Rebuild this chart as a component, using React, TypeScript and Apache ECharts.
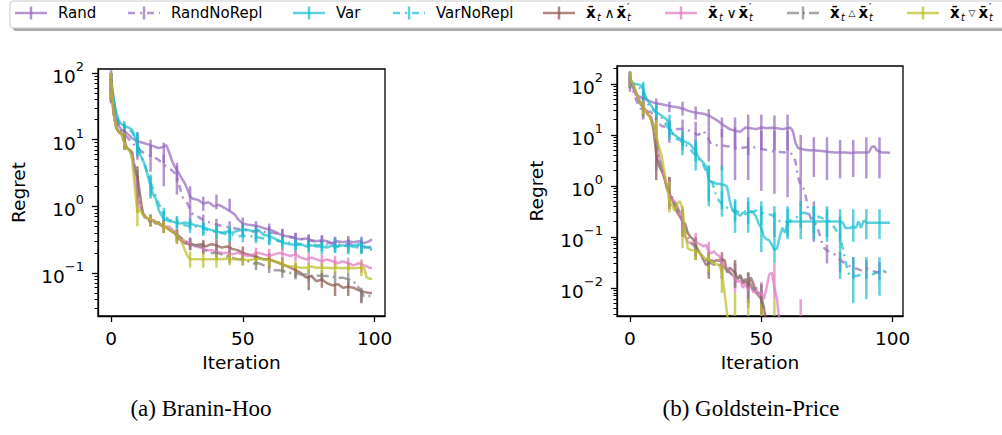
import React, { useEffect, useRef } from "react";
import * as echarts from "echarts";

type P = [number, number];
type E = [number, number] | null;

const FONT = '"DejaVu Sans"';
const SERIF = '"Liberation Serif"';

const ITER_TICKS = [0, 50, 100];
const ERR_X = [0, 5, 10, 15, 20, 25, 30, 35, 40, 45, 50, 55, 60, 65, 70, 75, 80, 85, 90, 95];
const BH_MAJOR = [0.1, 1, 10, 100];
const BH_MINOR = [0.03, 0.04, 0.05, 0.06, 0.07, 0.08, 0.09, 0.2, 0.3, 0.4, 0.5, 0.6, 0.7, 0.8, 0.9, 2, 3, 4, 5, 6, 7, 8, 9, 20, 30, 40, 50, 60, 70, 80, 90];
const GP_MAJOR = [0.01, 0.1, 1, 10, 100];
const GP_MINOR = [0.003, 0.004, 0.005, 0.006, 0.007, 0.008, 0.009, 0.02, 0.03, 0.04, 0.05, 0.06, 0.07, 0.08, 0.09, 0.2, 0.3, 0.4, 0.5, 0.6, 0.7, 0.8, 0.9, 2, 3, 4, 5, 6, 7, 8, 9, 20, 30, 40, 50, 60, 70, 80, 90, 200];

const NAMES = ["Rand", "RandNoRepl", "Var", "VarNoRepl", "and", "or", "tri", "nabla"];
const COLORS = ["#9467bd", "#9467bd", "#17becf", "#17becf", "#8c564b", "#e377c2", "#7f7f7f", "#bcbd22"];
const DASHES: (number[] | null)[] = [null, [7, 5, 2, 5], null, [7, 5, 2, 5], null, null, [12, 4, 2, 4], null];
const CAPTIONS = ["(a) Branin-Hoo", "(b) Goldstein-Price"];

// ---------------- Branin-Hoo ----------------
const BH_RAND: P[] = [[0,80],[1,40],[2,22],[3,16],[4,14],[5,13.5],[6,12.5],[7,11.5],[8,10.5],[9,10],[10,9.5],[12,9],[14,8.5],[16,8],[18,7.5],[20,7.8],[21,8.3],[22,6.5],[23,5],[24,4],[26,3],[28,2.2],[29,1.8],[30,1.4],[31,1.3],[33,1.25],[35,1.1],[37,1.15],[39,1.0],[41,1.05],[43,0.95],[45,0.85],[47,0.75],[48,0.65],[50,0.55],[52,0.53],[54,0.52],[56,0.5],[58,0.47],[60,0.45],[62,0.42],[64,0.38],[66,0.36],[68,0.35],[70,0.33],[72,0.32],[74,0.33],[76,0.31],[78,0.3],[80,0.31],[82,0.3],[84,0.28],[86,0.3],[88,0.29],[90,0.3],[92,0.29],[94,0.3],[96,0.28],[98,0.3],[99,0.32]];
const BH_RAND_NR: P[] = [[0,75],[1,35],[2,20],[3,15],[4,13],[6,11],[8,9],[10,7.5],[12,6.5],[14,6],[16,5.5],[18,5],[20,4.2],[22,3.8],[24,3.2],[25,2.8],[27,1.4],[29,1.1],[31,0.75],[33,0.7],[35,0.62],[37,0.58],[39,0.55],[41,0.52],[43,0.5],[45,0.48],[47,0.47],[49,0.45],[51,0.44],[53,0.43],[55,0.42],[57,0.43],[59,0.4],[61,0.4],[63,0.39],[65,0.37],[67,0.35],[69,0.34],[71,0.33],[73,0.32],[75,0.31],[77,0.3],[79,0.3],[81,0.29],[83,0.28],[85,0.28],[87,0.27],[89,0.27],[91,0.27],[93,0.26],[95,0.25],[97,0.24],[99,0.25]];
const BH_VAR: P[] = [[0,80],[1,40],[2,25],[3,19],[4,17],[5,16],[6,15.5],[7,15],[8,14],[9,11],[10,8],[11,6],[12,5],[13,4],[14,2.8],[15,2],[16,1.5],[17,1.3],[18,0.9],[19,0.75],[20,0.65],[22,0.6],[24,0.58],[26,0.55],[28,0.57],[30,0.55],[32,0.52],[34,0.5],[36,0.47],[38,0.44],[40,0.42],[42,0.4],[44,0.42],[46,0.4],[48,0.43],[50,0.45],[52,0.44],[54,0.42],[56,0.44],[58,0.37],[60,0.36],[62,0.33],[64,0.3],[66,0.28],[68,0.27],[70,0.26],[72,0.27],[74,0.25],[76,0.26],[78,0.25],[80,0.25],[82,0.24],[84,0.26],[86,0.25],[88,0.26],[90,0.25],[92,0.26],[94,0.27],[96,0.25],[98,0.24],[99,0.23]];
const BH_VAR_NR: P[] = [[0,78],[1,38],[2,24],[3,18],[4,16],[6,15],[8,13],[10,9],[11,6.5],[12,5],[14,3],[16,1.8],[18,1.1],[20,0.75],[22,0.62],[24,0.6],[26,0.58],[28,0.52],[30,0.5],[32,0.5],[34,0.48],[36,0.45],[38,0.42],[40,0.42],[42,0.4],[44,0.38],[46,0.37],[48,0.36],[50,0.36],[52,0.36],[54,0.35],[56,0.34],[58,0.33],[60,0.32],[62,0.31],[64,0.3],[66,0.29],[68,0.28],[70,0.28],[72,0.27],[74,0.27],[76,0.27],[78,0.26],[80,0.26],[82,0.26],[84,0.25],[86,0.25],[88,0.26],[90,0.25],[92,0.25],[94,0.24],[96,0.24],[98,0.23],[99,0.22]];
const BH_AND: P[] = [[0,80],[1,25],[2,15],[3,13],[4,12.5],[5,10],[6,7.5],[7,7],[8,6.5],[9,3.5],[10,2.8],[11,1.5],[12,0.8],[13,0.7],[14,0.65],[15,0.6],[16,0.62],[17,0.55],[18,0.58],[19,0.52],[20,0.5],[21,0.48],[22,0.45],[23,0.42],[24,0.4],[25,0.36],[26,0.32],[27,0.3],[28,0.28],[30,0.27],[32,0.26],[34,0.27],[36,0.25],[38,0.27],[40,0.26],[42,0.24],[44,0.25],[46,0.23],[48,0.22],[50,0.2],[52,0.19],[54,0.18],[56,0.17],[58,0.16],[60,0.16],[62,0.15],[64,0.14],[66,0.13],[68,0.12],[70,0.11],[72,0.1],[74,0.085],[76,0.09],[78,0.075],[80,0.08],[82,0.07],[84,0.065],[86,0.068],[88,0.06],[90,0.062],[92,0.06],[94,0.055],[96,0.052],[98,0.05],[99,0.05]];
const BH_OR: P[] = [[0,78],[1,24],[2,15],[3,13],[4,12],[5,9],[6,7.5],[7,7],[8,6],[9,3],[10,1.5],[11,1],[12,0.8],[13,0.7],[14,0.65],[16,0.6],[18,0.55],[20,0.5],[22,0.5],[24,0.42],[26,0.35],[28,0.3],[30,0.28],[32,0.25],[34,0.24],[36,0.22],[38,0.22],[40,0.21],[42,0.2],[44,0.2],[46,0.19],[48,0.2],[50,0.19],[52,0.18],[54,0.19],[56,0.2],[58,0.19],[60,0.18],[62,0.19],[64,0.2],[66,0.19],[68,0.18],[70,0.19],[72,0.17],[74,0.16],[76,0.17],[78,0.16],[80,0.15],[82,0.16],[84,0.15],[86,0.14],[88,0.15],[90,0.14],[92,0.13],[94,0.14],[96,0.13],[98,0.12],[99,0.12]];
const BH_TRI: P[] = [[0,75],[1,22],[2,15],[3,13],[4,12],[5,9],[6,7.5],[7,7],[8,6],[9,4],[10,2.5],[11,1.2],[12,0.8],[13,0.65],[14,0.6],[16,0.62],[18,0.55],[20,0.5],[22,0.45],[24,0.4],[26,0.35],[28,0.3],[30,0.28],[32,0.26],[34,0.25],[36,0.22],[38,0.2],[40,0.2],[42,0.19],[44,0.18],[46,0.17],[48,0.16],[50,0.16],[52,0.15],[54,0.14],[56,0.14],[58,0.13],[60,0.12],[62,0.11],[64,0.11],[66,0.105],[68,0.1],[70,0.1],[72,0.095],[74,0.095],[76,0.09],[78,0.092],[80,0.09],[82,0.09],[84,0.088],[86,0.085],[88,0.085],[90,0.08],[92,0.075],[94,0.06],[96,0.045],[98,0.045],[99,0.045]];
const BH_NAB: P[] = [[0,80],[1,25],[2,15],[3,13],[4,12],[5,9],[6,7.5],[7,7],[8,5],[9,2],[10,0.8],[11,0.9],[12,0.75],[13,0.7],[14,0.65],[16,0.62],[18,0.55],[20,0.5],[22,0.45],[24,0.4],[26,0.33],[27,0.28],[28,0.22],[29,0.18],[30,0.16],[32,0.16],[34,0.16],[36,0.16],[38,0.16],[40,0.16],[42,0.16],[44,0.165],[46,0.16],[48,0.16],[50,0.16],[52,0.155],[54,0.16],[56,0.165],[58,0.16],[60,0.155],[62,0.15],[64,0.14],[66,0.13],[68,0.125],[70,0.125],[72,0.12],[74,0.12],[76,0.125],[78,0.12],[80,0.12],[82,0.12],[84,0.118],[86,0.12],[88,0.118],[90,0.12],[92,0.118],[94,0.12],[96,0.12],[97,0.085],[98,0.082],[99,0.082]];

const BH_RAND_ERR: E[] = [[40,110],[10,17],[7,13],[5.5,10],[4.5,9],[2.3,4.5],[1.1,2],[0.85,1.4],[0.9,1.5],[0.85,1.3],[0.45,0.68],[0.45,0.6],[0.37,0.55],[0.3,0.45],[0.28,0.4],[0.27,0.38],[0.26,0.37],[0.24,0.35],[0.25,0.36],[0.24,0.35]];
const BH_RAND_NR_ERR: E[] = [[35,100],[9,16],[5,10],[3.3,8],[2,6],[1.5,4],[0.55,1.1],[0.45,0.75],[0.4,0.65],[0.38,0.6],[0.35,0.55],[0.33,0.52],[0.32,0.5],[0.29,0.46],[0.26,0.4],[0.24,0.37],[0.24,0.36],[0.22,0.34],[0.22,0.33],[0.2,0.31]];
const BH_VAR_ERR: E[] = [[40,100],[13,19],[6,13],[1.4,3],[0.5,0.85],[0.45,0.68],[0.45,0.65],[0.38,0.58],[0.32,0.5],[0.3,0.5],[0.35,0.55],[0.3,0.5],[0.27,0.45],[0.22,0.37],[0.2,0.33],[0.2,0.32],[0.19,0.31],[0.2,0.33],[0.19,0.31],[0.2,0.33]];
const BH_VAR_NR_ERR: E[] = [[38,100],[12,18],[5.5,12],[1.3,2.8],[0.55,0.95],[0.47,0.72],[0.4,0.6],[0.36,0.55],[0.33,0.52],[0.3,0.47],[0.29,0.45],[0.28,0.43],[0.26,0.4],[0.24,0.37],[0.22,0.34],[0.21,0.33],[0.21,0.32],[0.2,0.31],[0.2,0.31],[0.19,0.3]];
const BH_AND_ERR: E[] = [[40,100],[7,14],[1.2,4],[0.5,0.75],[0.4,0.62],[0.3,0.45],[0.22,0.33],[0.2,0.31],[0.2,0.32],[0.19,0.3],[0.16,0.25],[0.13,0.21],[0.12,0.2],[0.1,0.17],[0.085,0.14],[0.055,0.09],[0.06,0.1],[0.045,0.07],[0.045,0.075],[0.036,0.055]];
const BH_OR_ERR: E[] = [[38,100],[7,13],[0.8,2.5],[0.5,0.75],[0.42,0.6],[0.3,0.46],[0.22,0.34],[0.19,0.28],[0.17,0.26],[0.16,0.24],[0.15,0.23],[0.16,0.24],[0.15,0.23],[0.16,0.24],[0.15,0.22],[0.13,0.2],[0.12,0.19],[0.12,0.18],[0.11,0.17],[0.1,0.16]];
const BH_TRI_ERR: E[] = [[36,100],[7,13],[1,3.5],[0.5,0.75],[0.4,0.6],[0.28,0.44],[0.22,0.34],[0.19,0.3],[0.16,0.25],[0.14,0.22],[0.13,0.2],[0.11,0.18],[0.1,0.15],[0.085,0.13],[0.08,0.12],[0.075,0.115],[0.075,0.11],[0.07,0.105],[0.065,0.1],[0.035,0.06]];
const BH_NAB_ERR: E[] = [[40,100],[7,13],[0.5,1.3],[0.5,0.75],[0.4,0.6],[0.27,0.43],[0.12,0.21],[0.12,0.2],[0.12,0.2],[0.13,0.2],[0.13,0.19],[0.13,0.2],[0.12,0.18],[0.1,0.16],[0.1,0.15],[0.1,0.14],[0.1,0.14],[0.1,0.14],[0.1,0.14],[0.09,0.15]];

// ---------------- Goldstein-Price ----------------
const GP_RAND: P[] = [[0,130],[1,90],[2,65],[3,58],[4,55],[5,52],[6,50],[7,47],[8,45],[9,43],[10,42],[12,40],[14,38],[16,36],[18,35],[20,33],[22,30],[24,28],[26,27],[28,26],[30,24],[32,21],[34,18],[36,15],[38,13],[40,12],[42,11.5],[44,14],[46,13.5],[48,13],[50,14],[52,13.5],[54,13.8],[56,13.5],[58,13],[60,13.5],[61,14],[62,12],[63,7],[64,5.5],[66,5.2],[68,5],[70,5],[72,4.9],[74,4.8],[76,4.6],[78,4.5],[80,4.5],[82,4.5],[84,4.4],[86,4.5],[88,4.5],[90,4.5],[91,4.6],[92,5.8],[93,6],[94,5],[96,4.5],[98,4.5],[99,4.4]];
const GP_RAND_NR: P[] = [[0,125],[1,80],[2,55],[3,40],[4,33],[6,30],[8,28],[10,20],[12,15],[14,14],[16,12],[18,13],[20,13],[22,12.5],[24,11],[26,10],[28,12],[30,8],[31,6.5],[33,6.3],[35,6.2],[37,6],[39,5.8],[41,5.5],[43,5.6],[45,5.8],[47,5.7],[49,5.5],[51,5.2],[53,5],[55,4.7],[57,4.6],[59,4.5],[61,4.5],[62,4],[63,3],[64,1.5],[65,1],[66,0.9],[67,0.6],[68,0.3],[69,0.22],[70,0.2],[71,0.17],[72,0.12],[73,0.08],[74,0.06],[76,0.05],[78,0.045],[80,0.035],[82,0.03],[84,0.026],[86,0.024],[88,0.022],[90,0.024],[92,0.022],[94,0.02],[96,0.021],[98,0.02],[99,0.02]];
const GP_VAR: P[] = [[0,120],[1,105],[2,100],[3,98],[4,95],[5,80],[6,55],[7,45],[8,38],[9,32],[10,28],[11,26],[12,24],[13,22],[14,20],[15,14],[16,11],[17,10],[18,9],[19,8.5],[20,8],[21,7.3],[22,7],[23,6.5],[24,5.5],[25,5],[26,3.7],[27,3.2],[28,2.8],[29,2.4],[30,1.3],[31,1.2],[32,1.15],[33,1.1],[34,1.1],[35,1.05],[36,1.05],[37,0.95],[38,0.5],[39,0.33],[40,0.3],[41,0.28],[42,0.26],[43,0.3],[44,0.28],[45,0.3],[46,0.32],[47,0.3],[48,0.25],[49,0.18],[50,0.15],[51,0.1],[52,0.09],[53,0.085],[54,0.07],[55,0.055],[56,0.06],[57,0.1],[58,0.15],[59,0.12],[60,0.19],[62,0.2],[64,0.2],[66,0.2],[68,0.2],[70,0.2],[72,0.2],[74,0.2],[76,0.2],[78,0.2],[80,0.2],[81,0.19],[82,0.15],[84,0.15],[85,0.16],[86,0.15],[87,0.2],[88,0.15],[89,0.21],[90,0.19],[92,0.19],[94,0.19],[96,0.19],[98,0.19],[99,0.19]];
const GP_VAR_NR: P[] = [[0,120],[1,100],[2,95],[3,90],[4,80],[5,70],[6,50],[7,40],[8,33],[9,30],[10,27],[12,22],[14,15],[16,11],[17,9],[18,8.2],[19,8],[20,7],[22,6],[24,4.5],[26,3.5],[28,2.5],[30,1.5],[31,1.3],[32,0.9],[33,0.6],[34,0.5],[35,0.45],[36,0.4],[38,0.35],[40,0.33],[42,0.3],[44,0.32],[46,0.3],[48,0.33],[50,0.3],[52,0.28],[54,0.27],[56,0.22],[58,0.19],[60,0.2],[62,0.22],[64,0.25],[66,0.3],[68,0.28],[70,0.22],[72,0.25],[74,0.22],[76,0.2],[78,0.15],[80,0.1],[81,0.06],[82,0.035],[83,0.02],[84,0.017],[86,0.017],[88,0.018],[90,0.017],[92,0.018],[94,0.02],[96,0.022],[98,0.02],[99,0.02]];
const GP_AND: P[] = [[0,130],[1,100],[2,75],[3,55],[4,42],[5,35],[6,30],[7,25],[8,22],[9,12],[10,4],[11,2.5],[12,2],[13,1.5],[14,0.9],[15,0.7],[16,0.55],[17,0.4],[18,0.3],[19,0.25],[20,0.2],[21,0.18],[22,0.12],[23,0.1],[24,0.09],[25,0.07],[26,0.055],[27,0.045],[28,0.035],[29,0.028],[30,0.03],[31,0.035],[32,0.032],[33,0.035],[34,0.034],[35,0.035],[36,0.035],[37,0.02],[38,0.025],[39,0.022],[40,0.02],[41,0.015],[42,0.018],[43,0.012],[44,0.015],[45,0.01],[46,0.016],[47,0.012],[48,0.008],[49,0.007],[50,0.006],[51,0.004],[52,0.002],[53,0.001]];
const GP_OR: P[] = [[0,130],[1,100],[2,75],[3,55],[4,42],[5,35],[6,30],[7,25],[8,22],[9,16],[10,9],[11,4],[12,2.5],[13,1.5],[14,1],[15,0.7],[16,0.55],[17,0.5],[18,0.4],[19,0.3],[20,0.2],[21,0.1],[22,0.08],[23,0.075],[24,0.072],[25,0.08],[26,0.075],[27,0.07],[28,0.065],[29,0.07],[30,0.05],[31,0.048],[32,0.052],[33,0.045],[34,0.042],[35,0.03],[36,0.026],[37,0.024],[38,0.02],[39,0.018],[40,0.015],[41,0.013],[42,0.014],[43,0.01],[44,0.012],[45,0.009],[46,0.011],[47,0.008],[48,0.01],[49,0.007],[50,0.008],[51,0.006],[52,0.01],[53,0.018],[54,0.02],[55,0.01],[56,0.006],[57,0.002],[58,0.001]];
const GP_TRI: P[] = [[0,125],[1,95],[2,70],[3,52],[4,40],[5,34],[6,28],[7,24],[8,20],[9,14],[10,7],[11,3.5],[12,2.2],[13,1.5],[14,1],[15,0.75],[16,0.6],[17,0.45],[18,0.35],[19,0.3],[20,0.22],[21,0.15],[22,0.1],[23,0.08],[24,0.07],[25,0.06],[26,0.05],[27,0.045],[28,0.04],[29,0.035],[30,0.032],[31,0.03],[32,0.028],[33,0.03],[34,0.028],[35,0.025],[36,0.025],[37,0.022],[38,0.02],[39,0.018],[40,0.02],[41,0.015],[42,0.017],[43,0.014],[44,0.012],[45,0.01],[46,0.012],[47,0.009],[48,0.01],[49,0.008],[50,0.007],[51,0.004],[52,0.002],[53,0.001]];
const GP_NAB: P[] = [[0,130],[1,100],[2,75],[3,55],[4,42],[5,35],[6,30],[7,25],[8,20],[9,15],[10,10],[11,6],[12,4],[13,2],[14,1],[15,0.5],[16,0.42],[17,0.32],[18,0.45],[19,0.5],[20,0.35],[21,0.12],[22,0.06],[23,0.055],[24,0.055],[26,0.05],[28,0.04],[30,0.035],[32,0.03],[34,0.028],[35,0.02],[36,0.008],[37,0.003],[38,0.001]];

const GP_RAND_ERR: E[] = [[80,180],[40,65],[33,52],[28,45],[24,45],[20,36],[14,32],[9,22],[5,22],[4,25],[5,25],[5,24],[5,25],[1.5,10],[1.5,9],[1.3,9],[1.4,8],[1.5,8],[1.4,9],[1.4,9]];
const GP_RAND_NR_ERR: E[] = [[70,170],[20,45],[10,28],[7,20],[6,20],[4,18],[3,14],[2,13],[1.3,14],[1.3,9],[0.8,12],[0.7,12],[0.6,12],[0.4,1.5],[0.08,0.5],[0.03,0.07],[0.02,0.05],[0.015,0.04],[0.015,0.035],[0.014,0.032]];
const GP_VAR_ERR: E[] = [[90,150],[60,110],[20,40],[10,25],[5,12],[3,8],[0.4,2.5],[0.35,2.5],[0.12,0.55],[0.12,0.6],[0.05,0.4],[0.03,0.3],[0.09,0.4],[0.09,0.42],[0.09,0.4],[0.08,0.4],[0.08,0.35],[0.08,0.35],[0.09,0.35],[0.09,0.35]];
const GP_VAR_NR_ERR: E[] = [[85,150],[45,100],[18,38],[8,18],[4,10],[2,7],[0.5,2.5],[0.25,0.8],[0.2,0.5],[0.18,0.5],[0.17,0.5],[0.1,0.4],[0.1,0.35],[0.15,0.5],[0.12,0.4],[0.1,0.35],[0.015,0.25],[0.005,0.04],[0.006,0.04],[0.007,0.04]];
const GP_AND_ERR: E[] = [[90,170],[25,45],[1.3,6],[0.4,1.5],[0.1,0.35],[0.04,0.1],[0.015,0.05],[0.02,0.05],[0.01,0.035],[0.005,0.02],[0.002,0.012],null,null,null,null,null,null,null,null,null];
const GP_OR_ERR: E[] = [[90,170],[25,45],[3,18],[0.35,1.4],[0.1,0.35],[0.05,0.12],[0.03,0.08],[0.015,0.045],[0.008,0.03],[0.004,0.018],[0.003,0.013],[0.006,0.03],null,[0.0005,0.006],null,null,null,null,null,null];
const GP_TRI_ERR: E[] = [[85,165],[22,42],[2,12],[0.35,1.5],[0.1,0.35],[0.035,0.09],[0.018,0.05],[0.015,0.04],[0.01,0.03],[0.005,0.02],[0.003,0.012],null,null,null,null,null,null,null,null,null];
const GP_NAB_ERR: E[] = [[90,170],[25,45],[4,20],[0.3,1.2],[0.06,0.4],[0.035,0.08],[0.02,0.05],[0.008,0.03],[0.0005,0.008],[0.0005,0.006],[0.0005,0.005],[0.0005,0.006],null,null,null,null,null,null,null,null];

const BH_LINES = [BH_RAND, BH_RAND_NR, BH_VAR, BH_VAR_NR, BH_AND, BH_OR, BH_TRI, BH_NAB];
const BH_ERRS = [BH_RAND_ERR, BH_RAND_NR_ERR, BH_VAR_ERR, BH_VAR_NR_ERR, BH_AND_ERR, BH_OR_ERR, BH_TRI_ERR, BH_NAB_ERR];
const GP_LINES = [GP_RAND, GP_RAND_NR, GP_VAR, GP_VAR_NR, GP_AND, GP_OR, GP_TRI, GP_NAB];
const GP_ERRS = [GP_RAND_ERR, GP_RAND_NR_ERR, GP_VAR_ERR, GP_VAR_NR_ERR, GP_AND_ERR, GP_OR_ERR, GP_TRI_ERR, GP_NAB_ERR];

// layout
const GRIDS = [
  { left: 98, top: 69, width: 287, height: 247, ymin: 0.0226, ymax: 115, nameGap: 70 },
  { left: 617, top: 66, width: 286, height: 250, ymin: 0.0028, ymax: 225, nameGap: 71 },
];
const CAPTION_X = [201, 751];
const LEGEND_HANDLE_X = [15, 128, 293, 393, 543, 665, 787, 907];
const LEGEND_Y = 13;
const LW = 2.5;
const ALPHA = 0.7;

function yLabel(v: number) {
  const e = Math.round(Math.log10(v));
  return `{b|10}{s|${e < 0 ? "\u2212" + -e : e}}`;
}

function txt(x: number, y: number, text: string, font: string, align = "left") {
  return {
    type: "text",
    x,
    y,
    silent: true,
    style: { text, font, fill: "#000", align, verticalAlign: "middle", textAlign: align, textVerticalAlign: "middle" },
  };
}

function mathLabel(x: number, y: number, op: string, opFont: string, opW: number): any[] {
  const xb = "bold 15px " + FONT;
  const it = "italic 10px " + FONT;
  const opX = x + 18.5;
  const x2 = opX + opW + 3;
  return [
    txt(x, y, "x\u0304", xb),
    txt(x + 11, y + 4.5, "t", it),
    txt(opX, y, op, opFont),
    txt(x2, y, "x\u0304", xb),
    txt(x2 + 10.5, y - 6, "\u2032", "10px " + FONT),
    txt(x2 + 10.5, y + 4.5, "t", it),
  ];
}

function buildLegend(): any[] {
  const els: any[] = [];
  els.push({ type: "rect", silent: true, shape: { x: 13, y: 4, width: 1010, height: 27, r: 3 }, style: { fill: "#a8a8a8" } });
  els.push({ type: "rect", silent: true, shape: { x: 10, y: 1, width: 1010, height: 27, r: 3 }, style: { fill: "#ffffff", stroke: "#cccccc", lineWidth: 1 } });
  const ops = ["\u2227", "\u2228", "\u25B3", "\u25BD"];
  const opFonts = ["14px " + FONT, "14px " + FONT, "9px " + FONT, "9px " + FONT];
  const opWs = [9, 9, 7, 7];
  for (let k = 0; k < NAMES.length; k++) {
    const hx = LEGEND_HANDLE_X[k];
    const col = COLORS[k];
    els.push({
      type: "line",
      silent: true,
      shape: { x1: hx, y1: LEGEND_Y, x2: hx + 32, y2: LEGEND_Y },
      style: { stroke: col, lineWidth: LW, opacity: ALPHA, lineDash: DASHES[k] || null },
    });
    els.push({
      type: "line",
      silent: true,
      shape: { x1: hx + 16, y1: LEGEND_Y - 6.5, x2: hx + 16, y2: LEGEND_Y + 6.5 },
      style: { stroke: col, lineWidth: LW, opacity: ALPHA },
    });
    const tx = hx + 43;
    if (k < 4) {
      els.push(txt(tx, LEGEND_Y, NAMES[k], "15px " + FONT));
    } else {
      els.push(...mathLabel(tx, LEGEND_Y, ops[k - 4], opFonts[k - 4], opWs[k - 4]));
    }
  }
  return els;
}

function buildOption() {
  const xAxis: any[] = [];
  const yAxis: any[] = [];
  const series: any[] = [];
  const grid: any[] = [];
  const data = [
    { lines: BH_LINES, errs: BH_ERRS, major: BH_MAJOR, minor: BH_MINOR },
    { lines: GP_LINES, errs: GP_ERRS, major: GP_MAJOR, minor: GP_MINOR },
  ];
  GRIDS.forEach((g, gi) => {
    grid.push({ left: g.left, top: g.top, width: g.width, height: g.height, show: true, borderColor: "#000", borderWidth: 1.3, backgroundColor: "transparent", containLabel: false });
    xAxis.push({
      type: "value",
      gridIndex: gi,
      min: -4.95,
      max: 103.95,
      axisLine: { show: true, onZero: false, lineStyle: { color: "#000", width: 1.3 } },
      axisTick: { show: true, length: 6, customValues: ITER_TICKS, lineStyle: { color: "#000", width: 1.3 } },
      axisLabel: { show: true, customValues: ITER_TICKS, fontSize: 18.5, fontFamily: FONT, color: "#000", margin: 13 },
      splitLine: { show: false },
      name: "Iteration",
      nameLocation: "middle",
      nameGap: 37,
      nameTextStyle: { fontSize: 18.5, fontFamily: FONT, color: "#000" },
    });
    yAxis.push({
      type: "log",
      logBase: 10,
      gridIndex: gi,
      min: g.ymin,
      max: g.ymax,
      position: "left",
      axisLine: { show: true, onZero: false, lineStyle: { color: "#000", width: 1.3 } },
      axisTick: { show: true, length: 6, customValues: data[gi].major, lineStyle: { color: "#000", width: 1.3 } },
      axisLabel: {
        show: true,
        customValues: data[gi].major,
        margin: 14,
        formatter: yLabel,
        rich: {
          b: { fontSize: 18.5, fontFamily: FONT, color: "#000", lineHeight: 26, verticalAlign: "bottom" },
          s: { fontSize: 13, fontFamily: FONT, color: "#000", lineHeight: 14, verticalAlign: "top" },
        },
      },
      splitLine: { show: false },
      minorTick: { show: false },
      name: "Regret",
      nameLocation: "middle",
      nameGap: g.nameGap,
      nameTextStyle: { fontSize: 18.5, fontFamily: FONT, color: "#000" },
    });
    yAxis.push({
      type: "log",
      logBase: 10,
      gridIndex: gi,
      min: g.ymin,
      max: g.ymax,
      position: "left",
      axisLine: { show: false, onZero: false },
      axisTick: { show: true, length: 3.5, customValues: data[gi].minor, lineStyle: { color: "#000", width: 1 } },
      axisLabel: { show: false },
      splitLine: { show: false },
    });
    const { lines, errs } = data[gi];
    for (let k = 0; k < lines.length; k++) {
      const col = COLORS[k];
      series.push({
        type: "line",
        name: NAMES[k] + "_" + gi,
        xAxisIndex: gi,
        yAxisIndex: gi * 2,
        data: lines[k],
        symbol: "none",
        showSymbol: false,
        clip: true,
        lineStyle: { color: col, width: LW, opacity: ALPHA, type: DASHES[k] || "solid" },
        itemStyle: { color: col },
        z: 3,
      });
      const ed: number[][] = [];
      errs[k].forEach((e, i) => {
        if (e) ed.push([ERR_X[i], e[0], e[1]]);
      });
      series.push({
        type: "custom",
        name: NAMES[k] + "_err_" + gi,
        xAxisIndex: gi,
        yAxisIndex: gi * 2,
        data: ed,
        clip: true,
        encode: { x: 0, y: [1, 2] },
        z: 3,
        renderItem: (_p: any, api: any) => {
          const x = api.value(0);
          const lo = api.coord([x, api.value(1)]);
          const hi = api.coord([x, api.value(2)]);
          return {
            type: "line",
            shape: { x1: lo[0], y1: lo[1], x2: hi[0], y2: hi[1] },
            style: { stroke: col, lineWidth: LW, opacity: ALPHA },
          };
        },
      });
    }
  });

  const graphic: any[] = [...buildLegend()];
  CAPTIONS.forEach((c, i) => {
    graphic.push(txt(CAPTION_X[i], 408, c, "23px " + SERIF, "center"));
  });

  return {
    animation: false,
    backgroundColor: "#ffffff",
    textStyle: { fontFamily: FONT },
    grid,
    xAxis,
    yAxis,
    series,
    graphic,
  };
}

export default function App() {
  const ref = useRef<HTMLDivElement>(null);
  useEffect(() => {
    document.body.style.margin = "0";
    if (!ref.current) return;
    const chart = echarts.init(ref.current, undefined, { renderer: "svg" });
    chart.setOption(buildOption() as any);
    return () => chart.dispose();
  }, []);
  return <div ref={ref} style={{ width: 1002, height: 435 }} />;
}
